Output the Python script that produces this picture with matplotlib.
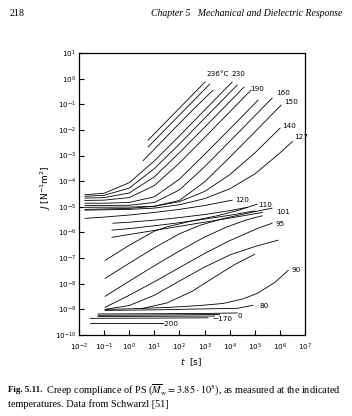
import numpy as np
import matplotlib
matplotlib.use("Agg")
import matplotlib.pyplot as plt
from matplotlib.ticker import FixedLocator, NullLocator, LogFormatterSciNotation

# ---- data: (log10 t [s], log10 J [m^2/N]) ----
c236 = ([0.75, 1.5, 2.3, 3.02], [-2.40, -1.65, -0.85, -0.13])
c233 = ([0.75, 1.5, 2.5, 3.2], [-2.67, -1.92, -0.92, -0.22])
c232 = ([0.55, 1.5, 2.5, 3.34], [-3.20, -2.25, -1.25, -0.45])
c230 = ([-1.76, -1, 0, 1, 2, 3, 4.1], [-4.53, -4.47, -4.06, -3.21, -2.23, -1.23, -0.13])
c210 = ([-1.76, -1, 0, 1, 2, 3, 4.3], [-4.59, -4.55, -4.27, -3.51, -2.55, -1.55, -0.25])
c190 = ([-1.76, -1, 0, 1, 2, 3, 4.57], [-4.66, -4.64, -4.46, -3.83, -2.89, -1.90, -0.33])
c180 = ([-1.76, -1, 0, 1, 2, 3, 4, 4.85], [-4.75, -4.74, -4.64, -4.17, -3.29, -2.30, -1.30, -0.45])
c170 = ([-1.76, -1, 0, 1, 2, 3, 4, 5.13], [-4.86, -4.86, -4.83, -4.61, -3.92, -2.96, -1.97, -0.84])
c160 = ([-1.76, 0, 1, 2, 3, 4, 5, 5.69], [-4.95, -4.94, -4.83, -4.34, -3.44, -2.45, -1.45, -0.76])
c150 = ([-1.76, 0, 1, 2, 3, 4, 5, 6.05], [-5.02, -5.01, -4.98, -4.75, -4.03, -3.07, -2.08, -1.03])
c140 = ([-1.76, 0, 1, 2, 3, 4, 5, 6.01], [-5.10, -5.06, -4.98, -4.80, -4.40, -3.75, -2.90, -1.93])
c127 = ([-1.76, 0, 1, 2, 3, 4, 5, 6, 6.5], [-5.13, -5.10, -5.05, -4.92, -4.68, -4.30, -3.72, -2.90, -2.45])
c120 = ([-1.76, -1, 0, 1, 2, 3, 4.1], [-5.45, -5.40, -5.32, -5.22, -5.10, -4.95, -4.74])
c115 = ([-0.65, 0, 1, 2, 3, 4, 4.7], [-5.64, -5.60, -5.52, -5.42, -5.30, -5.15, -5.02])
c110 = ([-0.96, 0, 1, 1.5, 2.5, 3.5, 4.3, 5.09], [-7.09, -6.50, -5.95, -5.78, -5.55, -5.35, -5.15, -4.90])
c105 = ([-0.69, 0, 1, 2, 3, 4, 5], [-5.91, -5.85, -5.74, -5.62, -5.48, -5.33, -5.16])
c103 = ([-0.69, 0, 1, 2, 3, 4, 5.3], [-6.19, -6.08, -5.92, -5.76, -5.60, -5.44, -5.22])
c101 = ([-0.96, 0, 1, 2, 2.82, 3.7, 4.7, 5.69], [-7.79, -7.20, -6.60, -6.05, -5.72, -5.47, -5.25, -5.05])
c98 = ([-0.96, 0, 1, 2, 3, 3.9, 4.7, 5.3], [-8.49, -7.90, -7.30, -6.72, -6.18, -5.78, -5.50, -5.35])
c95 = ([-0.96, 0, 1.1, 2, 3, 4, 5.09, 5.69], [-8.92, -8.45, -7.87, -7.37, -6.82, -6.32, -5.85, -5.64])
c93 = ([-0.96, 0, 1, 1.9, 3, 4, 5, 5.93], [-9.00, -8.85, -8.45, -7.95, -7.35, -6.88, -6.55, -6.30])
c92 = ([0.5, 1.5, 2.5, 3.3, 4.2, 5.0], [-8.97, -8.75, -8.30, -7.80, -7.25, -6.85])
c90 = ([-0.96, 0, 1.63, 2.8, 3.74, 4.5, 5.09, 5.8, 6.33], [-9.00, -8.98, -8.92, -8.85, -8.77, -8.60, -8.38, -7.95, -7.48])
c80 = ([-0.96, 1, 2.5, 4.3, 4.93], [-9.04, -9.02, -8.99, -8.96, -8.84])
c0 = ([-1.24, 1, 3, 4.3], [-9.18, -9.17, -9.16, -9.14])
cm50 = ([-1.24, 1, 3.6], [-9.23, -9.22, -9.20])
cm100 = ([-1.24, 1, 3.4], [-9.28, -9.27, -9.26])
cm170 = ([-1.56, 1, 3.14], [-9.35, -9.34, -9.33])
cm200 = ([-1.56, 1.3], [-9.55, -9.55])

curves = [c236, c233, c232, c230, c210, c190, c180, c170, c160, c150, c140, c127,
          c120, c115, c110, c105, c103, c101, c98, c95, c93, c92, c90, c80,
          c0, cm50, cm100, cm170, cm200]

label_texts = ["236°C", "230", "190", "160", "150", "140", "127", "120", "110",
               "101", "95", "90", "80", "0", "\u2212170", "\u2212200"]
# label anchor positions (log10 t, log10 J), left/center aligned
label_pos = [(3.06, 0.18), (4.06, 0.18), (4.81, -0.41), (5.85, -0.56), (6.17, -0.91),
             (6.09, -1.85), (6.57, -2.28), (4.22, -4.74), (5.13, -4.94), (5.85, -5.21),
             (5.81, -5.68), (6.45, -7.48), (5.17, -8.88), (4.33, -9.27), (3.30, -9.39),
             (1.15, -9.59)]

xticks = [10.0 ** e for e in range(-2, 8)]
yticks = [10.0 ** e for e in range(-10, 2)]

W, H = 352, 416
fig = plt.figure(figsize=(W / 100, H / 100), dpi=100)
fig.patch.set_facecolor("white")
ax = fig.add_axes([79 / W, 1 - 335 / H, (305 - 79) / W, (335 - 53) / H])

for lt, lj in curves:
    ax.plot(10.0 ** np.array(lt), 10.0 ** np.array(lj), color="black", lw=0.6)

for s, (px, py) in zip(label_texts, label_pos):
    ax.text(10.0 ** px, 10.0 ** py, s, fontsize=5.2, ha="left", va="center",
            family="DejaVu Sans")

ax.set_xscale("log")
ax.set_yscale("log")
ax.set_xlim(1e-2, 1e7)
ax.set_ylim(1e-10, 1e1)
ax.xaxis.set_major_locator(FixedLocator(xticks))
ax.yaxis.set_major_locator(FixedLocator(yticks))
ax.xaxis.set_minor_locator(NullLocator())
ax.yaxis.set_minor_locator(NullLocator())
ax.xaxis.set_major_formatter(LogFormatterSciNotation())
ax.yaxis.set_major_formatter(LogFormatterSciNotation())
ax.tick_params(axis="both", which="major", direction="in", length=3.6, width=0.8,
               labelsize=5.2)
ax.tick_params(axis="x", pad=5)
ax.tick_params(axis="y", pad=2)
for sp in ax.spines.values():
    sp.set_linewidth(0.9)

# axis labels
fig.text(191 / W, 1 - 362 / H, r"$t$  [s]", fontsize=6.5, ha="center", va="center")
fig.text(46 / W, 1 - 188 / H, r"$J$ [N$^{-1}$m$^{2}$]", fontsize=6.5, rotation=90,
         ha="center", va="center")

# page text (header and caption), fitted to target widths
fig.canvas.draw()
renderer = fig.canvas.get_renderer()


def fit_text(x0, y, s, target_w, **kw):
    t = fig.text(x0 / W, 1 - y / H, s, fontsize=10, ha="left", va="center", **kw)
    w = t.get_window_extent(renderer).width
    t.set_fontsize(10 * target_w / w)
    return t


serif = "Liberation Serif"
fit_text(10, 13, "218", 15, family=serif)
fit_text(151, 13, "Chapter 5   Mechanical and Dielectric Response", 192,
         family=serif, style="italic")

cap1_bold = fig.text(8 / W, 1 - 390 / H, "Fig. 5.11.", fontsize=6.4, ha="left",
                     va="center", family=serif, weight="bold")
fig.canvas.draw()
bx = cap1_bold.get_window_extent(renderer).x1
rest = (r" Creep compliance of PS ($\overline{M}_{\rm w} = 3.85\cdot10^{5}$), "
        "as measured at the indicated")
t1 = fig.text((bx + 2) / W, 1 - 390 / H, rest, fontsize=10, ha="left", va="center",
              family=serif, math_fontfamily="stix")
w1 = t1.get_window_extent(renderer).width
t1.set_fontsize(10 * (342 - bx - 2) / w1)
fig.text(8 / W, 1 - 404 / H, "temperatures. Data from Schwarzl [51]",
         fontsize=t1.get_fontsize(), ha="left", va="center", family=serif)

fig.savefig("out.png", dpi=100)
